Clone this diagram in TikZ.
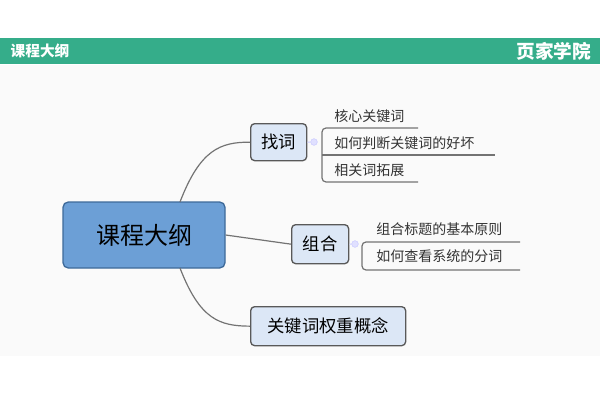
\documentclass[tikz,border=0pt]{standalone}
\usepackage{fontspec}
\setmainfont{Noto Sans CJK SC}
\definecolor{bar}{HTML}{35AD8A}
\definecolor{cfill}{HTML}{6C9FD6}
\definecolor{cdraw}{HTML}{3E6A9A}
\definecolor{bfill}{HTML}{DCE7F6}
\begin{document}
\begin{tikzpicture}[x=0.75pt,y=-0.75pt,
  branch/.style={draw=black!65,line width=1pt,rounded corners=3pt,fill=bfill,font=\fontsize{13}{13}\selectfont,inner sep=0pt,anchor=north west,align=center},
  leaf/.style={font=\fontsize{10.5}{11}\selectfont,anchor=west,inner sep=0pt,text=black!80},
  link/.style={draw=black!55,line width=0.9pt},
  dot/.style={circle,fill=blue!12,draw=blue!20,minimum size=5pt,inner sep=0pt}]
\useasboundingbox (0,0) rectangle (600,400);
\fill[white] (0,0) rectangle (600,400);
\fill[gray!4] (0,65) rectangle (600,356);
\fill[bar] (0,38) rectangle (600,64);
\node[white,font=\fontsize{11}{11}\selectfont\bfseries,anchor=west] (t) at (6,51) {课程大纲};
\node[white,font=\fontsize{14}{14}\selectfont\bfseries,anchor=east] (l) at (596,51) {页家学院};
\node[draw=cdraw,line width=1pt,rounded corners=4pt,fill=cfill,inner sep=0pt,
  minimum width=162*0.75pt,minimum height=66*0.75pt,font=\fontsize{18}{18}\selectfont] (c) at (144,235) {课程大纲};
\node[branch,minimum width=56*0.75pt,minimum height=37*0.75pt] (a) at (250,123) {找词};
\node[branch,minimum width=57*0.75pt,minimum height=39*0.75pt] (b) at (291,224) {组合};
\node[branch,minimum width=155*0.75pt,minimum height=39*0.75pt] (d) at (250,306) {关键词权重概念};
\draw[link] (180,202) .. controls (200,150) and (220,142) .. (a.west);
\draw[link] (c.east) -- (b.west);
\draw[link] (180,268) .. controls (200,320) and (220,326) .. (d.west);
\node[dot] (p) at (314,142) {};
\node[dot] (q) at (355,244) {};
\draw[link,line width=0.6pt,draw=blue!20] (a.east) -- (p);
\draw[link,line width=0.6pt,draw=blue!20] (b.east) -- (q);
\node[leaf] (l1) at (334,116) {核心关键词};
\node[leaf] (l2) at (334,143) {如何判断关键词的好坏};
\node[leaf] (l3) at (334,170) {相关词拓展};
\draw[link,rounded corners=3pt] (418,128) -- (322,128) -- (322,182) -- (418,182);
\draw[link] (322,155) -- (495,155);
\node[leaf] (m1) at (376,229) {组合标题的基本原则};
\node[leaf] (m2) at (376,256) {如何查看系统的分词};
\draw[link,rounded corners=3pt] (520,242) -- (362,242) -- (362,270) -- (520,270);
\end{tikzpicture}
\end{document}
